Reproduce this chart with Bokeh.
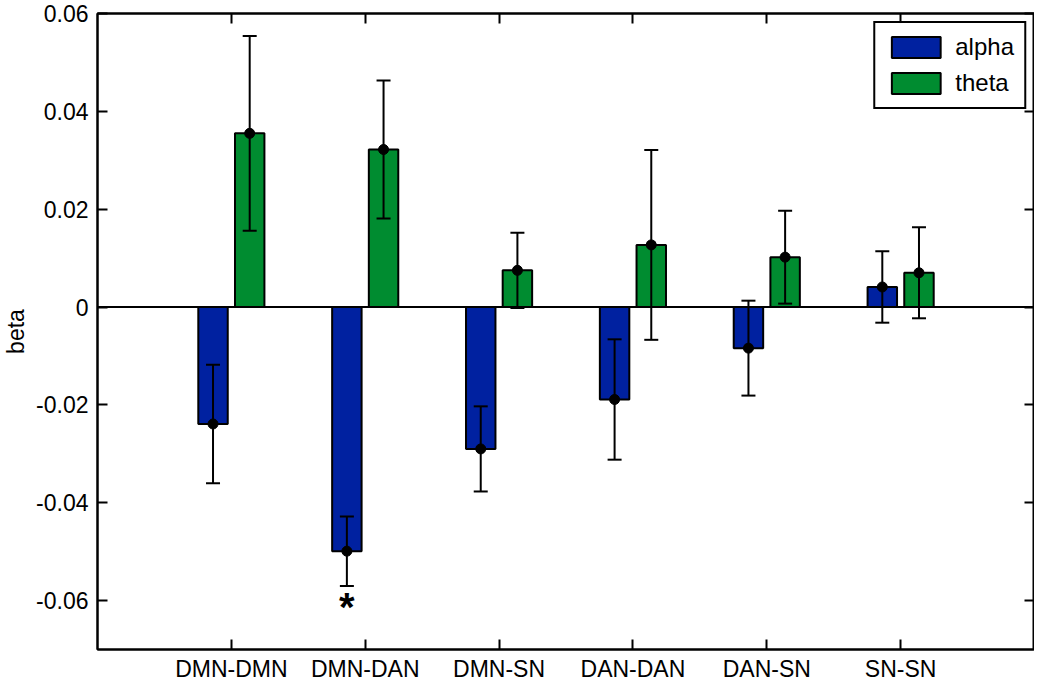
from bokeh.plotting import figure
from bokeh.models import (ColumnDataSource, Whisker, TeeHead, Span, FixedTicker,
                          LinearAxis, Range1d, Legend, LegendItem)
from bokeh.core.properties import value
from bokeh.embed import file_html
from bokeh.resources import INLINE

# ---- data ----
categories = ["DMN-DMN", "DMN-DAN", "DMN-SN", "DAN-DAN", "DAN-SN", "SN-SN"]
alpha_mean = [-0.0239, -0.0499, -0.0290, -0.0189, -0.0084, 0.0041]
alpha_err = [0.0121, 0.0071, 0.0087, 0.0123, 0.0097, 0.0073]
theta_mean = [0.0355, 0.0322, 0.0075, 0.0127, 0.0102, 0.0070]
theta_err = [0.0199, 0.0141, 0.0077, 0.0194, 0.0095, 0.0093]
series_names = ["alpha", "theta"]
significant = ["DMN-DAN"]          # alpha effect marked with *
ytick_values = [-0.06, -0.04, -0.02, 0, 0.02, 0.04, 0.06]
ytick_labels = ["-0.06", "-0.04", "-0.02", "0", "0.02", "0.04", "0.06"]

# ---- styling ----
FONT = "Liberation Sans"
COL_ALPHA = "#0021A0"
COL_THETA = "#008C30"
OFFSET = 0.137
BAR_W = 0.22
LW = 2

xs = list(range(1, len(categories) + 1))

p = figure(width=1034, height=684, x_range=Range1d(0, 7), y_range=Range1d(-0.07, 0.06),
           output_backend="svg", toolbar_location=None,
           min_border_left=91, min_border_right=0, min_border_top=13, min_border_bottom=20)
p.xgrid.visible = False
p.ygrid.visible = False
p.outline_line_color = "black"
p.outline_line_width = LW
p.background_fill_color = "white"
p.border_fill_color = "white"

def src(means, errs, off):
    return ColumnDataSource(dict(
        x=[x + off for x in xs], top=means,
        upper=[m + e for m, e in zip(means, errs)],
        lower=[m - e for m, e in zip(means, errs)]))

sa = src(alpha_mean, alpha_err, -OFFSET)
st = src(theta_mean, theta_err, OFFSET)

ra = p.vbar(x="x", top="top", bottom=0, width=BAR_W, source=sa,
            fill_color=COL_ALPHA, line_color="black", line_width=LW)
rt = p.vbar(x="x", top="top", bottom=0, width=BAR_W, source=st,
            fill_color=COL_THETA, line_color="black", line_width=LW)

p.add_layout(Span(location=0, dimension="width", line_color="black", line_width=LW))

for s in (sa, st):
    w = Whisker(source=s, base="x", upper="upper", lower="lower",
                line_color="black", line_width=LW,
                upper_head=TeeHead(size=14, line_color="black", line_width=LW),
                lower_head=TeeHead(size=14, line_color="black", line_width=LW))
    w.level = "annotation"
    p.add_layout(w)
    p.scatter(x="x", y="top", source=s, size=10, fill_color="black", line_color="black")

# significance star
star_x = [xs[categories.index(c)] - OFFSET for c in significant]
star_y = [alpha_mean[categories.index(c)] - alpha_err[categories.index(c)] - 0.0043
          for c in significant]
p.text(x=star_x, y=star_y, text=["*"] * len(star_x), text_font=value(FONT),
       text_font_size="40px", text_font_style="bold", text_align="center",
       text_baseline="middle", text_color="black")

# axes
xax = p.xaxis[0]
yax = p.yaxis[0]
yax.ticker = FixedTicker(ticks=ytick_values)
yax.major_label_overrides = dict(zip(ytick_values, ytick_labels))
xax.ticker = FixedTicker(ticks=xs)
xax.major_label_overrides = dict(zip(xs, categories))
for ax in (xax, yax):
    ax.axis_line_width = LW
    ax.axis_line_color = "black"
    ax.major_tick_in = 10
    ax.major_tick_out = 0
    ax.major_tick_line_width = LW
    ax.major_tick_line_color = "black"
    ax.minor_tick_line_color = None
    ax.major_label_text_font = FONT
    ax.major_label_text_font_size = "23px"
    ax.major_label_text_color = "black"
xax.major_label_standoff = 6
xax.axis_label_standoff = 0
yax.major_label_standoff = 9
yax.axis_label = "beta"
yax.axis_label_text_font = FONT
yax.axis_label_text_font_size = "23px"
yax.axis_label_text_font_style = "normal"
yax.axis_label_text_color = "black"
yax.axis_label_standoff = 4

right = LinearAxis(ticker=FixedTicker(ticks=ytick_values),
                   major_label_overrides={v: "" for v in ytick_values},
                   major_tick_in=10, major_tick_out=0, major_tick_line_width=LW,
                   minor_tick_line_color=None, major_label_standoff=0,
                   axis_label_standoff=0, axis_line_width=LW)
top = LinearAxis(ticker=FixedTicker(ticks=xs),
                 major_label_overrides={v: "" for v in xs},
                 major_tick_in=10, major_tick_out=0, major_tick_line_width=LW,
                 minor_tick_line_color=None, major_label_standoff=0,
                 axis_label_standoff=0, axis_line_width=LW)
p.add_layout(right, "right")
p.add_layout(top, "above")

legend = Legend(items=[LegendItem(label=series_names[0], renderers=[ra]),
                       LegendItem(label=series_names[1], renderers=[rt])],
                location="top_right")
legend.border_line_color = "black"
legend.border_line_alpha = 1.0
legend.border_line_width = LW
legend.label_text_font = FONT
legend.label_text_font_size = "24px"
legend.label_text_color = "black"
legend.glyph_width = 61
legend.glyph_height = 26
legend.label_height = 26
legend.label_standoff = 9
legend.padding = 10
legend.spacing = 8
legend.margin = 8
p.add_layout(legend)

open("out.html", "w").write(file_html(p, INLINE))
